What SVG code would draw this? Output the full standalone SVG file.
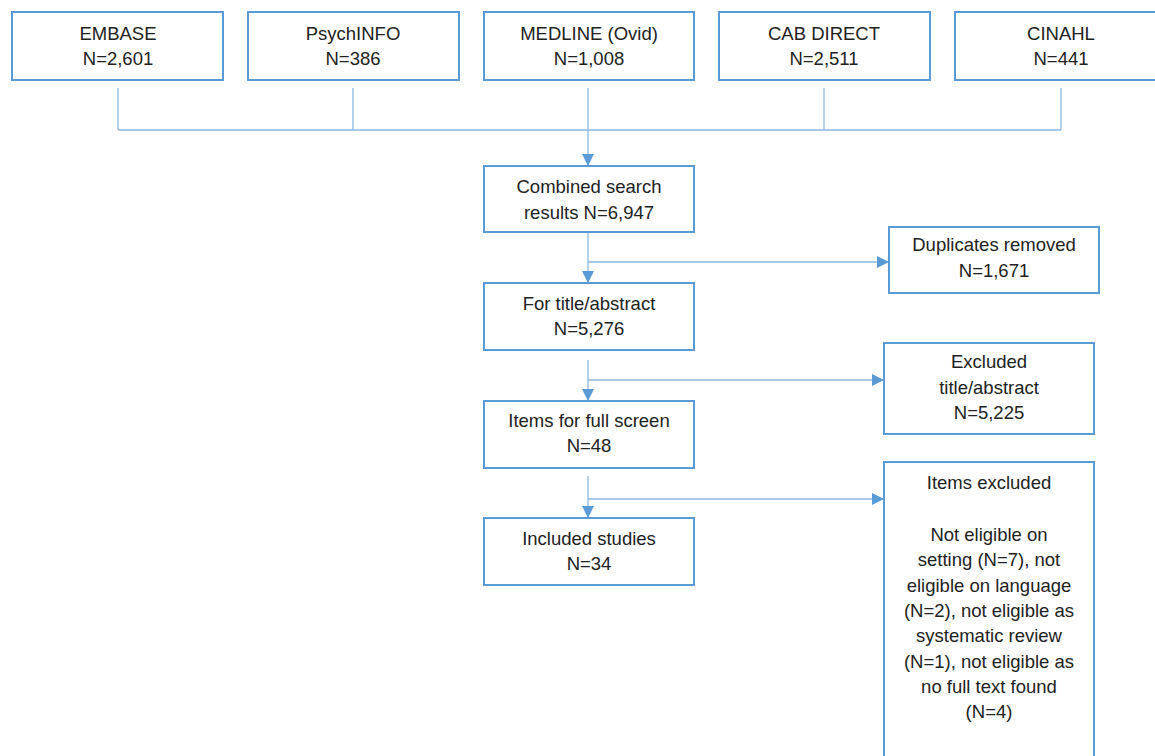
<svg xmlns="http://www.w3.org/2000/svg" width="1155" height="756" viewBox="0 0 1155 756">
<style>
.box{fill:#fff;stroke:#5B9BD5;stroke-width:2}
.t{font-family:"Liberation Sans",Arial,sans-serif;font-size:18.5px;fill:#222;text-anchor:middle}
.c{fill:none;stroke:#8DB8E2;stroke-width:1.3}
</style>
<defs>
<marker id="ah" markerWidth="12" markerHeight="12" refX="11" refY="6" orient="auto" markerUnits="userSpaceOnUse">
<path d="M0,0 L12,6 L0,12 Z" fill="#5B9BD5"/>
</marker>
</defs>
<rect width="1155" height="756" fill="#fff"/>
<g id="connectors">
<path class="c" d="M118,88 V130 M353,88 V130 M824,88 V130 M1061,88 V130 M118,130 H1061"/>
<path class="c" d="M588,88 V165" marker-end="url(#ah)"/>
<path class="c" d="M588,232 V282" marker-end="url(#ah)"/>
<path class="c" d="M588,262 H888" marker-end="url(#ah)"/>
<path class="c" d="M588,360 V400" marker-end="url(#ah)"/>
<path class="c" d="M588,380 H883" marker-end="url(#ah)"/>
<path class="c" d="M588,476 V517" marker-end="url(#ah)"/>
<path class="c" d="M588,499 H883" marker-end="url(#ah)"/>
</g>
<g id="embase"><rect class="box" x="12" y="12" width="211" height="68"/><text class="t" x="118" y="40">EMBASE</text><text class="t" x="118" y="65">N=2,601</text></g>
<g id="psychinfo"><rect class="box" x="248" y="12" width="211" height="68"/><text class="t" x="353" y="40">PsychINFO</text><text class="t" x="353" y="65">N=386</text></g>
<g id="medline"><rect class="box" x="484" y="12" width="210" height="68"/><text class="t" x="589" y="40">MEDLINE (Ovid)</text><text class="t" x="589" y="65">N=1,008</text></g>
<g id="cab"><rect class="box" x="719" y="12" width="211" height="68"/><text class="t" x="824" y="40">CAB DIRECT</text><text class="t" x="824" y="65">N=2,511</text></g>
<g id="cinahl"><rect class="box" x="955" y="12" width="212" height="68"/><text class="t" x="1061" y="40">CINAHL</text><text class="t" x="1061" y="65">N=441</text></g>
<g id="combined"><rect class="box" x="484" y="166" width="210" height="66"/><text class="t" x="589" y="193">Combined search</text><text class="t" x="589" y="219">results N=6,947</text></g>
<g id="duplicates"><rect class="box" x="889" y="227" width="210" height="66"/><text class="t" x="994" y="251">Duplicates removed</text><text class="t" x="994" y="277">N=1,671</text></g>
<g id="titleabstract"><rect class="box" x="484" y="283" width="210" height="67"/><text class="t" x="589" y="310">For title/abstract</text><text class="t" x="589" y="335">N=5,276</text></g>
<g id="excluded"><rect class="box" x="884" y="343" width="210" height="91"/><text class="t" x="989" y="368">Excluded</text><text class="t" x="989" y="394">title/abstract</text><text class="t" x="989" y="419">N=5,225</text></g>
<g id="fullscreen"><rect class="box" x="484" y="401" width="210" height="67"/><text class="t" x="589" y="427">Items for full screen</text><text class="t" x="589" y="452">N=48</text></g>
<g id="itemsexcluded"><rect class="box" x="884" y="462" width="210" height="310"/>
<text class="t" x="989" y="489">Items excluded</text>
<text class="t" x="989" y="541">Not eligible on</text>
<text class="t" x="989" y="566">setting (N=7), not</text>
<text class="t" x="989" y="592">eligible on language</text>
<text class="t" x="989" y="617">(N=2), not eligible as</text>
<text class="t" x="989" y="642">systematic review</text>
<text class="t" x="989" y="668">(N=1), not eligible as</text>
<text class="t" x="989" y="693">no full text found</text>
<text class="t" x="989" y="718">(N=4)</text>
</g>
<g id="included"><rect class="box" x="484" y="518" width="210" height="67"/><text class="t" x="589" y="545">Included studies</text><text class="t" x="589" y="570">N=34</text></g>
</svg>
